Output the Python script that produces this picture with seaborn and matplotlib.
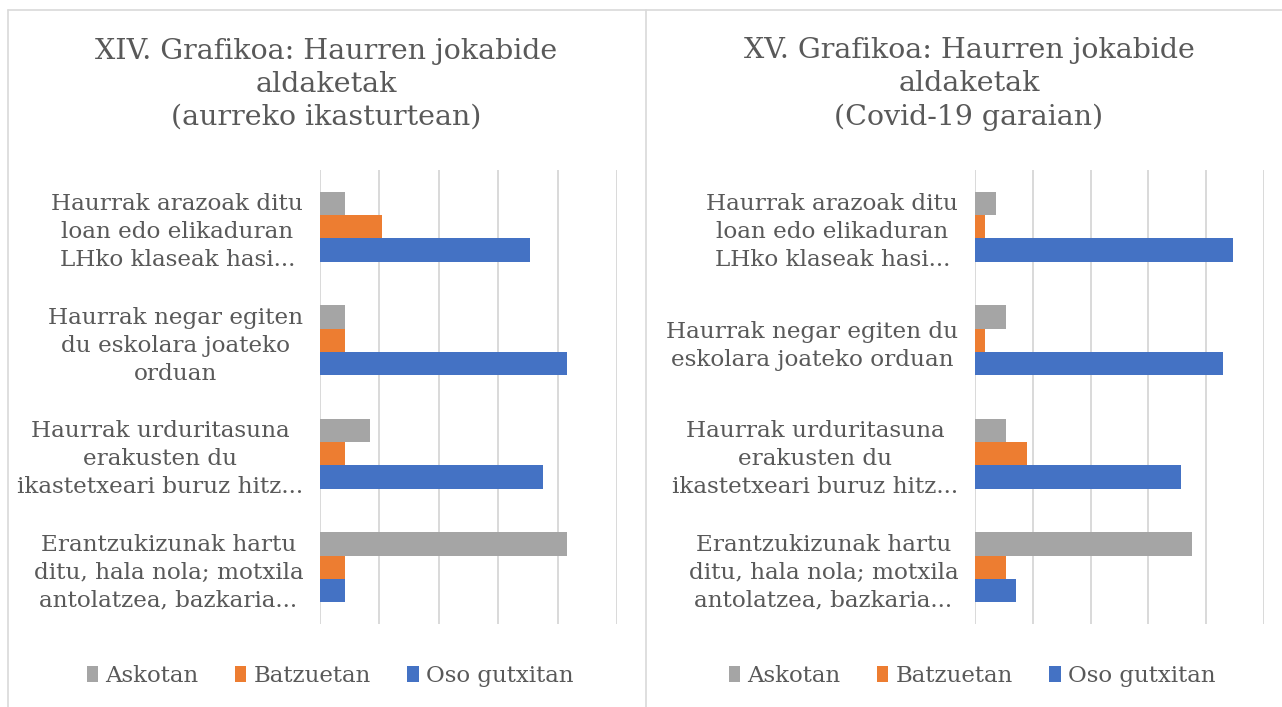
import matplotlib
matplotlib.use("Agg")
import matplotlib.pyplot as plt
from matplotlib.patches import Patch
from matplotlib.lines import Line2D
import seaborn as sns
import pandas as pd

sns.set_theme(style="white")
plt.rcParams['font.family'] = ['DejaVu Serif']

# ---- data ----
series = ["Askotan", "Batzuetan", "Oso gutxitan"]
colors = ["#A5A5A5", "#ED7D31", "#4472C4"]

left_title = "XIV. Grafikoa: Haurren jokabide\naldaketak\n(aurreko ikasturtean)"
right_title = "XV. Grafikoa: Haurren jokabide\naldaketak\n(Covid-19 garaian)"

left_categories = [
    "Haurrak arazoak ditu\nloan edo elikaduran\nLHko klaseak hasi...",
    "Haurrak negar egiten\ndu eskolara joateko\norduan",
    "Haurrak urduritasuna\nerakusten du\nikastetxeari buruz hitz...",
    "Erantzukizunak hartu\nditu, hala nola; motxila\nantolatzea, bazkaria...",
]
right_categories = [
    "Haurrak arazoak ditu\nloan edo elikaduran\nLHko klaseak hasi...",
    "Haurrak negar egiten du\neskolara joateko orduan",
    "Haurrak urduritasuna\nerakusten du\nikastetxeari buruz hitz...",
    "Erantzukizunak hartu\nditu, hala nola; motxila\nantolatzea, bazkaria...",
]

# percentages (per category, top to bottom)
left_askotan = [8.3, 8.3, 16.7, 83.3]
left_batzuetan = [20.8, 8.3, 8.3, 8.3]
left_oso = [70.8, 83.3, 75.0, 8.3]

right_askotan = [7.1, 10.7, 10.7, 75.0]
right_batzuetan = [3.6, 3.6, 17.9, 10.7]
right_oso = [89.3, 85.7, 71.4, 14.3]

TEXT = "#595959"
W, H = 1282, 707


def long_df(cats, a, b, c):
    rows = []
    for s, vals in zip(series, [a, b, c]):
        for cat, v in zip(cats, vals):
            rows.append({"cat": cat, "series": s, "value": v})
    return pd.DataFrame(rows)


fig = plt.figure(figsize=(W / 100, H / 100), dpi=100)

# panel borders
border = "#D9D9D9"
fig.add_artist(Line2D([8 / W, 8 / W], [0, 1 - 10 / H], color=border, lw=1.2))
fig.add_artist(Line2D([646 / W, 646 / W], [0, 1 - 10 / H], color=border, lw=1.2))
fig.add_artist(Line2D([8 / W, 1], [1 - 10 / H, 1 - 10 / H], color=border, lw=1.2))

y0 = (H - 624) / H
hgt = 454 / H

panels = [
    (320, 617, left_categories, left_askotan, left_batzuetan, left_oso, left_title, 326, 330),
    (975, 1264, right_categories, right_askotan, right_batzuetan, right_oso, right_title, 969, 972),
]

for (x0, x1, cats, a, b, c, title, tx, lx) in panels:
    ax = fig.add_axes([x0 / W, y0, (x1 - x0) / W, hgt])
    df = long_df(cats, a, b, c)
    sns.barplot(data=df, x="value", y="cat", hue="series", hue_order=series,
                palette=colors, orient="h", width=0.62, linewidth=0,
                saturation=1, ax=ax, legend=False)
    ax.set_xlim(0, 100)
    ax.set_xticks([0, 20, 40, 60, 80, 100])
    ax.set_xticklabels([])
    ax.tick_params(axis="x", length=0)
    ax.tick_params(axis="y", length=0, pad=12)
    ax.set_yticks(range(len(cats)))
    ax.set_yticklabels(cats, fontsize=16.7, color=TEXT, multialignment="center",
                       linespacing=1.36)
    ax.grid(axis="x", color="#D9D9D9", lw=1.4)
    ax.set_axisbelow(True)
    for sp in ax.spines.values():
        sp.set_visible(False)
    ax.set_xlabel("")
    ax.set_ylabel("")

    fig.text(tx / W, 1 - 84 / H, title, ha="center", va="center", fontsize=20.5,
             color=TEXT, linespacing=1.28)

    handles = [Patch(facecolor=col, edgecolor="none") for col in colors]
    fig.legend(handles, series, loc="center", bbox_to_anchor=(lx / W, 1 - 676 / H),
               ncol=3, frameon=False, fontsize=16.5, labelcolor=TEXT,
               handlelength=0.5, handleheight=0.7, handletextpad=0.3,
               columnspacing=1.6)

fig.savefig("out.png", dpi=100, facecolor="white")
